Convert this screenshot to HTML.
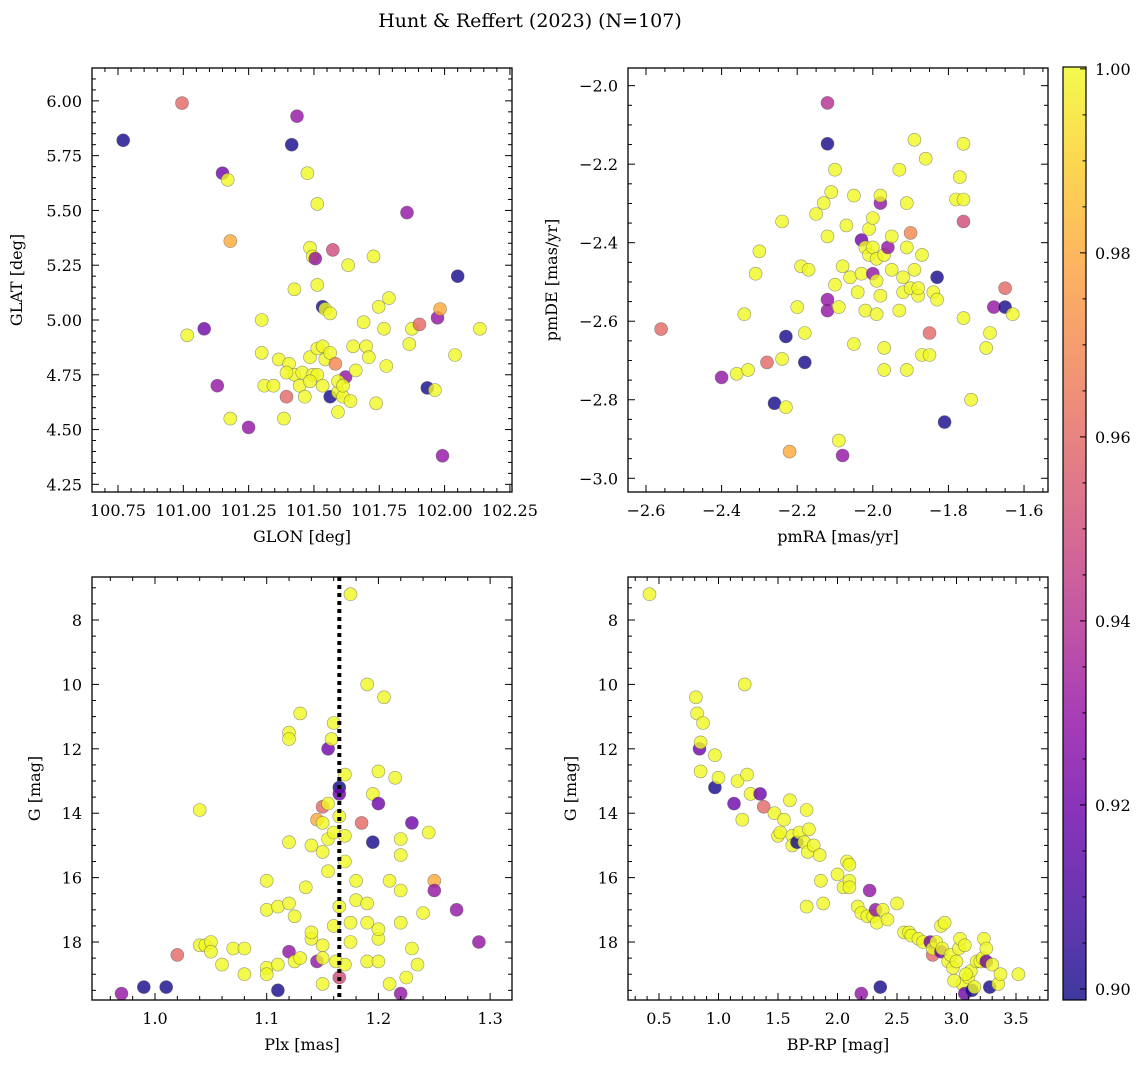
<!DOCTYPE html>
<html><head><meta charset="utf-8"><style>
html,body{margin:0;padding:0;background:#fff;}
svg{display:block;font-family:"DejaVu Serif","Liberation Serif",serif;}
</style></head><body>
<svg id="fig" width="1148" height="1067" viewBox="0 0 1148 1067" xmlns="http://www.w3.org/2000/svg">
<defs>
<linearGradient id="cbgrad" x1="0" y1="1" x2="0" y2="0">
<stop offset="0" stop-color="#0d0887"/><stop offset="0.1" stop-color="#41049d"/><stop offset="0.2" stop-color="#6a00a8"/><stop offset="0.3" stop-color="#8f0da4"/><stop offset="0.4" stop-color="#b12a90"/><stop offset="0.5" stop-color="#cc4778"/><stop offset="0.6" stop-color="#e16462"/><stop offset="0.7" stop-color="#f2844b"/><stop offset="0.8" stop-color="#fca636"/><stop offset="0.9" stop-color="#fcce25"/><stop offset="1" stop-color="#f0f921"/>
</linearGradient>
</defs>
<text x="530" y="27" font-size="19" text-anchor="middle">Hunt &amp; Reffert (2023) (N=107)</text>
</svg>
<script>
// ---- data ----
const glonVals=[100.77,100.995,101.15,101.17,101.18,101.08,101.015,101.13,101.18,101.25,101.30,101.30,101.31,101.365,101.385,101.395,101.405,101.415,101.425,101.435,101.425,101.445,101.455,101.475,101.485,101.495,101.505,101.485,101.495,101.513,101.513,101.533,101.543,101.572,101.562,101.513,101.533,101.543,101.562,101.513,101.533,101.562,101.582,101.592,101.592,101.611,101.621,101.631,101.64,101.65,101.66,101.69,101.70,101.71,101.728,101.738,101.748,101.768,101.777,101.787,101.856,101.865,101.875,101.904,101.934,101.963,101.973,101.983,101.992,102.04,102.05,102.135,101.465,101.485,101.592,101.611,101.395,101.345];
const glatVals=[5.82,5.99,5.67,5.64,5.36,4.96,4.93,4.70,4.55,4.51,5.00,4.85,4.70,4.82,4.55,4.65,4.80,5.80,5.14,5.93,4.75,4.70,4.76,5.67,5.33,5.29,5.28,4.83,4.75,5.53,5.16,5.06,5.05,5.32,5.03,4.87,4.88,4.82,4.85,4.75,4.70,4.65,4.80,4.67,4.58,4.65,4.74,5.25,4.63,4.88,4.77,4.99,4.88,4.83,5.29,4.62,5.06,4.96,4.79,5.10,5.49,4.89,4.96,4.98,4.69,4.68,5.01,5.05,4.38,4.84,5.20,4.96,4.65,4.72,4.72,4.70,4.76,4.70];
const probTL=[0.90,0.96,0.92,1,0.98,0.92,1,0.93,1,0.93,1,1,1,1,1,0.96,1,0.90,1,0.93,1,1,1,1,1,1,0.93,1,1,1,1,0.90,1,0.95,1,1,1,1,1,1,1,0.90,0.97,1,1,1,0.93,1,1,1,1,1,1,1,1,1,1,1,1,1,0.93,1,1,0.96,0.90,1,0.93,0.98,0.93,1,0.90,1,1,1,1,1,1,1];
const pmraVals=[-2.56,-2.40,-2.36,-2.34,-2.33,-2.31,-2.30,-2.28,-2.26,-2.24,-2.24,-2.23,-2.23,-2.22,-2.20,-2.19,-2.18,-2.18,-2.17,-2.15,-2.13,-2.12,-2.12,-2.12,-2.11,-2.10,-2.10,-2.09,-2.09,-2.08,-2.08,-2.07,-2.06,-2.05,-2.05,-2.12,-2.12,-2.04,-2.03,-2.03,-2.02,-2.02,-2.01,-2.01,-2.00,-2.00,-2.00,-1.99,-1.99,-1.99,-1.98,-1.98,-1.98,-1.97,-1.97,-1.97,-1.96,-1.95,-1.95,-1.93,-1.93,-1.92,-1.92,-1.91,-1.91,-1.91,-1.90,-1.90,-1.89,-1.89,-1.88,-1.88,-1.87,-1.87,-1.86,-1.85,-1.85,-1.84,-1.83,-1.83,-1.81,-1.78,-1.77,-1.76,-1.76,-1.76,-1.76,-1.74,-1.70,-1.69,-1.68,-1.65,-1.65,-1.63];
const pmdeVals=[-2.620,-2.743,-2.734,-2.582,-2.724,-2.479,-2.422,-2.705,-2.809,-2.696,-2.346,-2.819,-2.639,-2.932,-2.564,-2.460,-2.705,-2.630,-2.469,-2.327,-2.299,-2.573,-2.545,-2.384,-2.271,-2.507,-2.214,-2.564,-2.904,-2.460,-2.942,-2.356,-2.488,-2.280,-2.658,-2.044,-2.148,-2.526,-2.479,-2.393,-2.412,-2.573,-2.431,-2.365,-2.412,-2.479,-2.337,-2.497,-2.582,-2.441,-2.535,-2.299,-2.280,-2.724,-2.668,-2.431,-2.412,-2.384,-2.469,-2.573,-2.214,-2.526,-2.488,-2.412,-2.299,-2.724,-2.516,-2.375,-2.138,-2.469,-2.535,-2.516,-2.686,-2.431,-2.186,-2.630,-2.686,-2.526,-2.545,-2.488,-2.857,-2.290,-2.233,-2.346,-2.592,-2.290,-2.148,-2.800,-2.668,-2.630,-2.564,-2.516,-2.564,-2.582];
const probTR=[0.96,0.93,1,1,1,1,1,0.96,0.90,1,1,1,0.90,0.98,1,1,0.90,1,1,1,1,0.93,0.93,1,1,1,1,1,1,1,0.93,1,1,1,1,0.94,0.90,1,1,0.92,1,1,1,1,1,0.93,1,1,1,1,1,0.93,1,1,1,1,0.93,1,1,1,1,1,1,1,1,1,1,0.97,1,1,1,1,1,1,1,0.96,1,1,1,0.90,0.90,1,1,0.95,1,1,1,1,1,1,0.93,0.96,0.90,1];
const plxVals=[0.97,0.99,1.01,1.02,1.04,1.04,1.045,1.05,1.05,1.06,1.07,1.08,1.08,1.10,1.10,1.10,1.10,1.11,1.11,1.11,1.12,1.12,1.12,1.12,1.12,1.125,1.125,1.13,1.13,1.135,1.14,1.14,1.14,1.145,1.145,1.15,1.15,1.15,1.15,1.15,1.15,1.155,1.155,1.155,1.155,1.158,1.16,1.16,1.16,1.162,1.165,1.165,1.165,1.165,1.17,1.17,1.17,1.17,1.175,1.175,1.18,1.185,1.19,1.19,1.19,1.19,1.195,1.195,1.2,1.2,1.2,1.2,1.2,1.205,1.21,1.21,1.215,1.22,1.22,1.22,1.22,1.22,1.225,1.23,1.23,1.235,1.24,1.245,1.25,1.25,1.27,1.29,1.18,1.165,1.175];
const gPlxVals=[19.6,19.4,19.4,18.4,13.9,18.1,18.1,18.0,18.3,18.7,18.2,19.0,18.2,17.0,16.1,18.8,19.0,16.9,18.7,19.5,16.8,11.5,11.7,14.9,18.3,17.2,18.6,10.9,18.5,16.3,17.9,17.7,15.0,14.2,18.6,14.3,15.2,13.8,18.1,18.5,19.3,13.7,14.8,15.8,12.0,11.7,11.2,14.6,17.5,18.6,19.1,13.2,13.4,14.1,12.8,15.5,14.7,18.7,7.2,17.4,16.7,14.3,10.0,16.8,17.4,18.6,13.4,14.9,13.7,17.9,17.6,18.6,12.7,10.4,16.1,19.3,12.9,15.3,17.4,14.8,19.6,16.4,19.1,14.3,18.2,18.7,17.1,14.6,16.1,16.4,17.0,18.0,16.1,16.9,18.0];
const probBL=[0.93,0.90,0.90,0.96,1,1,1,1,1,1,1,1,1,1,1,1,1,1,1,0.90,1,1,1,1,0.93,1,1,1,1,1,1,1,1,0.98,0.93,1,1,0.96,1,1,1,1,1,1,0.92,1,1,1,1,1,0.95,0.90,0.92,1,1,1,1,1,1,1,1,0.96,1,1,1,1,1,0.90,0.92,1,1,1,1,1,1,1,1,1,1,1,0.93,1,1,0.92,1,1,1,1,0.98,0.93,0.93,0.93,1,1,1];
const plxLine=1.165;
const bprpVals=[0.42,0.81,0.82,0.84,0.85,0.87,0.85,0.97,0.97,1.0,1.22,1.13,1.16,1.2,1.24,1.27,1.35,1.38,1.47,1.5,1.52,1.55,1.6,1.62,1.62,1.66,1.68,1.72,1.74,1.75,1.76,1.74,1.8,1.85,1.86,1.88,2.0,2.05,2.08,2.1,2.1,2.1,2.17,2.2,2.25,2.27,2.3,2.32,2.33,2.38,2.42,2.2,2.36,2.5,2.56,2.6,2.62,2.68,2.72,2.78,2.8,2.8,2.83,2.87,2.87,2.9,2.88,2.93,2.95,2.97,3.0,3.02,3.03,3.05,3.07,3.07,3.1,3.12,3.13,3.15,3.17,3.2,3.22,3.23,3.25,3.25,3.28,3.3,3.35,3.37,3.52,3.08,2.98];
const gCmdVals=[7.2,10.4,10.9,12.0,11.8,11.2,12.7,12.2,13.2,12.9,10.0,13.7,13.0,14.2,12.8,13.4,13.4,13.8,14.0,14.7,14.6,14.2,13.6,14.7,15.0,14.9,14.6,14.9,13.9,15.2,14.5,16.9,15.0,15.3,16.1,16.8,15.9,16.3,15.5,15.6,16.1,16.3,16.9,17.1,17.2,16.4,17.2,17.0,17.4,17.0,17.3,19.6,19.4,16.8,17.7,17.7,17.8,17.9,18.0,18.0,18.4,18.2,18.0,18.3,17.5,17.4,18.2,18.6,18.4,18.8,18.6,18.2,17.9,19.3,18.1,19.6,19.1,18.9,19.5,19.4,18.6,18.6,18.5,17.9,18.2,18.6,19.4,18.7,19.3,19.0,19.0,19.0,19.2];
const probBR=[1,1,1,0.92,1,1,1,1,0.90,1,1,0.92,1,1,1,1,0.92,0.96,1,1,1,1,1,1,1,0.90,1,1,1,1,1,1,1,1,1,1,1,1,1,1,1,1,1,1,1,0.93,1,0.93,1,1,1,0.93,0.90,1,1,1,1,1,1,0.92,0.96,1,1,0.92,1,1,1,1,1,1,1,1,1,1,1,0.92,1,1,0.90,1,1,1,1,1,1,0.92,0.90,1,1,1,1,1,1];
const cbTicks=[0.90,0.92,0.94,0.96,0.98,1.00];

// ---- helpers ----
const NS='http://www.w3.org/2000/svg';
const svg=document.getElementById('fig');
function mk(tag,attrs,parent){const e=document.createElementNS(NS,tag);for(const k in attrs)e.setAttribute(k,attrs[k]);(parent||svg).appendChild(e);return e;}
const stops=[[0,[13,8,135]],[0.1,[65,4,157]],[0.2,[106,0,168]],[0.3,[143,13,164]],[0.4,[177,42,144]],[0.5,[204,71,120]],[0.6,[225,100,98]],[0.7,[242,132,75]],[0.8,[252,166,54]],[0.9,[252,206,37]],[1,[240,249,33]]];
function plasma(t){t=Math.max(0,Math.min(1,t));for(let i=1;i<stops.length;i++){if(t<=stops[i][0]){const a=stops[i-1],b=stops[i];const f=(t-a[0])/(b[0]-a[0]);const c=a[1].map((v,j)=>Math.round(v+(b[1][j]-v)*f));return `rgb(${c[0]},${c[1]},${c[2]})`;}}return 'rgb(240,249,33)';}
function fmt(v,d){let s=v.toFixed(d);if(v<0)s='\u2212'+(-v).toFixed(d);return s;}

function panel(cfg){
  const g=mk('g',{});
  
  
  const {x0,x1,y0,y1}=cfg.box;
  const sx=v=>x0+(v-cfg.xd[0])/(cfg.xd[1]-cfg.xd[0])*(x1-x0);
  const sy=cfg.yinv? v=>y0+(v-cfg.yd[0])/(cfg.yd[1]-cfg.yd[0])*(y1-y0) : v=>y1-(v-cfg.yd[0])/(cfg.yd[1]-cfg.yd[0])*(y1-y0);
  const clip='clip-'+cfg.name;
  const cp=mk('clipPath',{id:clip},g);mk('rect',{x:x0,y:y0,width:x1-x0,height:y1-y0},cp);
  const pts=mk('g',{'clip-path':`url(#${clip})`},g);
  
  
  for(let i=0;i<cfg.xs.length;i++){
    const c=mk('circle',{cx:sx(cfg.xs[i]).toFixed(1),cy:sy(cfg.ys[i]).toFixed(1),r:6.5,fill:plasma((cfg.cs[i]-0.899)/0.101),'fill-opacity':0.8,stroke:'#555','stroke-width':0.6,'stroke-opacity':0.6},pts);
    
    
  }
  if(cfg.vline!==undefined){
    const l=mk('line',{x1:sx(cfg.vline),x2:sx(cfg.vline),y1:y0,y2:y1,stroke:'#000','stroke-width':4,'stroke-dasharray':'4,4'},pts);
    
    
  }
  mk('rect',{x:x0,y:y0,width:x1-x0,height:y1-y0,fill:'none',stroke:'#000','stroke-width':1.3},g);
  const xt=mk('g',{},g);
  
  
  const kx0=Math.ceil(cfg.xd[0]/cfg.xminor-1e-6), kx1=Math.floor(cfg.xd[1]/cfg.xminor+1e-6);
  for(let k=kx0;k<=kx1;k++){
    const v=k*cfg.xminor;
    const major=Math.abs(v/cfg.xmajor-Math.round(v/cfg.xmajor))<1e-4;
    const L=major?7:4;const px=sx(v);
    mk('line',{x1:px,x2:px,y1:y1,y2:y1-L,stroke:'#000','stroke-width':1},xt);
    mk('line',{x1:px,x2:px,y1:y0,y2:y0+L,stroke:'#000','stroke-width':1},xt);
    if(major){const t=mk('text',{x:px,y:y1+24,'font-size':16,'text-anchor':'middle'},xt);t.textContent=fmt(v,cfg.xdec);}
  }
  const yt=mk('g',{},g);
  
  
  const ky0=Math.ceil(cfg.yd[0]/cfg.yminor-1e-6), ky1=Math.floor(cfg.yd[1]/cfg.yminor+1e-6);
  for(let k=ky0;k<=ky1;k++){
    const v=k*cfg.yminor;
    const major=Math.abs(v/cfg.ymajor-Math.round(v/cfg.ymajor))<1e-4;
    const L=major?7:4;const py=sy(v);
    mk('line',{x1:x0,x2:x0+L,y1:py,y2:py,stroke:'#000','stroke-width':1},yt);
    mk('line',{x1:x1,x2:x1-L,y1:py,y2:py,stroke:'#000','stroke-width':1},yt);
    if(major){const t=mk('text',{x:x0-10,y:py+6,'font-size':16,'text-anchor':'end'},yt);t.textContent=fmt(v,cfg.ydec);}
  }
  const xl=mk('text',{x:(x0+x1)/2,y:y1+50,'font-size':16,'text-anchor':'middle'},g);xl.textContent=cfg.xlabel;
  
  const yx=cfg.ylabx, yy=(y0+y1)/2;
  const yl=mk('text',{x:yx,y:yy,'font-size':16,'text-anchor':'middle',transform:`rotate(-90 ${yx} ${yy})`},g);yl.textContent=cfg.ylabel;
  
}

panel({name:'glon-glat-panel',box:{x0:92,x1:512,y0:68,y1:492},xd:[100.6505,102.258],yd:[4.215,6.15],xmajor:0.25,xminor:0.05,ymajor:0.25,yminor:0.05,xdec:2,ydec:2,xs:glonVals,ys:glatVals,cs:probTL,xlabel:'GLON [deg]',ylabel:'GLAT [deg]',ylabx:22});
panel({name:'proper-motion-panel',box:{x0:628,x1:1048,y0:68,y1:492},xd:[-2.6476,-1.5366],yd:[-3.035,-1.955],xmajor:0.2,xminor:0.05,ymajor:0.2,yminor:0.05,xdec:1,ydec:1,xs:pmraVals,ys:pmdeVals,cs:probTR,xlabel:'pmRA [mas/yr]',ylabel:'pmDE [mas/yr]',ylabx:557});
panel({name:'parallax-mag-panel',box:{x0:92,x1:512,y0:577,y1:1000},xd:[0.9436,1.3196],yd:[6.665,19.8],yinv:true,xmajor:0.1,xminor:0.02,ymajor:2,yminor:0.5,xdec:1,ydec:0,xs:plxVals,ys:gPlxVals,cs:probBL,vline:plxLine,xlabel:'Plx [mas]',ylabel:'G [mag]',ylabx:40});
panel({name:'cmd-panel',box:{x0:628,x1:1048,y0:577,y1:1000},xd:[0.2395,3.7689],yd:[6.665,19.8],yinv:true,xmajor:0.5,xminor:0.1,ymajor:2,yminor:0.5,xdec:1,ydec:0,xs:bprpVals,ys:gCmdVals,cs:probBR,xlabel:'BP-RP [mag]',ylabel:'G [mag]',ylabx:576});

// colorbar
const cb=mk('g',{});


const cbx0=1063,cbx1=1086,cby0=67,cby1=1000,cmin=0.8988,cmax=1.0002;
const cy=v=>cby1-(v-cmin)/(cmax-cmin)*(cby1-cby0);
mk('rect',{x:cbx0,y:cby0,width:cbx1-cbx0,height:cby1-cby0,fill:'url(#cbgrad)','fill-opacity':0.8},cb);
mk('rect',{x:cbx0,y:cby0,width:cbx1-cbx0,height:cby1-cby0,fill:'none',stroke:'#000','stroke-width':1.2},cb);
for(let k=0;k<=20;k++){
  const v=0.9+k*0.005;
  const major=k%4===0;const py=cy(v);
  mk('line',{x1:cbx1,x2:cbx1-(major?6:3.5),y1:py,y2:py,stroke:'#000','stroke-width':1},cb);
}
for(const v of cbTicks){const t=mk('text',{x:cbx1+9,y:cy(v)+6,'font-size':16},cb);t.textContent=v.toFixed(2);}
</script>
</body></html>
